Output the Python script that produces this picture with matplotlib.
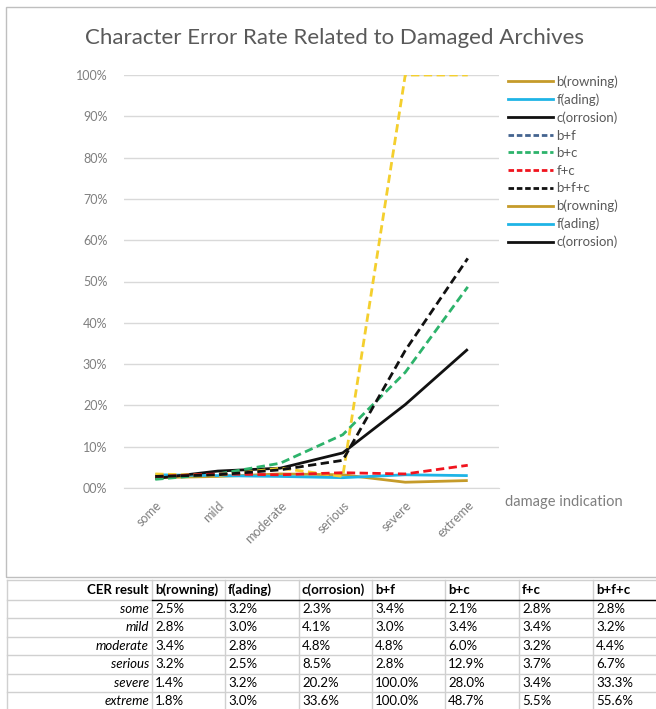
import matplotlib
matplotlib.use("Agg")
import matplotlib.pyplot as plt
from matplotlib.lines import Line2D
from matplotlib.patches import Rectangle
from matplotlib.ticker import FuncFormatter, MultipleLocator

plt.rcParams['font.family'] = ['Lato', 'DejaVu Sans']

# ---- data (CER in percent) ----
categories = ["some", "mild", "moderate", "serious", "severe", "extreme"]
browning = [2.5, 2.8, 3.4, 3.2, 1.4, 1.8]
fading = [3.2, 3.0, 2.8, 2.5, 3.2, 3.0]
corrosion = [2.3, 4.1, 4.8, 8.5, 20.2, 33.6]
b_f = [3.4, 3.0, 4.8, 2.8, 100.0, 100.0]
b_c = [2.1, 3.4, 6.0, 12.9, 28.0, 48.7]
f_c = [2.8, 3.4, 3.2, 3.7, 3.4, 5.5]
b_f_c = [2.8, 3.2, 4.4, 6.7, 33.3, 55.6]

series_names = ["b(rowning)", "f(ading)", "c(orrosion)", "b+f", "b+c", "f+c", "b+f+c"]
series_values = [browning, fading, corrosion, b_f, b_c, f_c, b_f_c]
title = "Character Error Rate Related to Damaged Archives"
x_label = "damage indication"
table_corner = "CER result"

W, H = 656, 709
fig = plt.figure(figsize=(W / 100, H / 100), dpi=100)


def fx(px):
    return px / W


def fy(py):
    return 1 - py / H


# chart frame
fig.patches.append(Rectangle((fx(6), fy(577)), fx(700), fy(7) - fy(577),
                             transform=fig.transFigure, fill=False,
                             edgecolor="#BFBFBF", linewidth=1.0))

fig.text(fx(335), fy(38), title, ha="center", va="center",
         fontsize=16, color="#595959")

ax = fig.add_axes([fx(124), fy(488), fx(499) - fx(124), fy(75) - fy(488)])
x = list(range(len(categories)))

styles = {
    "b(rowning)": dict(color="#C59B2A", ls="-"),
    "f(ading)": dict(color="#1FB4E6", ls="-"),
    "c(orrosion)": dict(color="#111111", ls="-"),
    "b+f": dict(color="#F4CF2E", ls="--"),
    "b+c": dict(color="#2DB36B", ls="--"),
    "f+c": dict(color="#F0141E", ls="--"),
    "b+f+c": dict(color="#111111", ls="--"),
}
legend_colors = dict((k, v["color"]) for k, v in styles.items())
legend_colors["b+f"] = "#44648F"

for name, vals in zip(series_names, series_values):
    st = styles[name]
    ax.plot(x, vals, color=st["color"], linestyle=st["ls"], linewidth=2.0,
            dashes=(3, 1.6) if st["ls"] == "--" else (None, None),
            solid_capstyle="butt")

ax.set_xlim(-0.5, len(categories) - 0.5)
ax.set_ylim(0, 100)
ax.yaxis.set_major_locator(MultipleLocator(10))
ax.yaxis.set_major_formatter(FuncFormatter(lambda v, p: f"{int(v):02d}%"))
ax.grid(axis="y", color="#D9D9D9", linewidth=1.0)
ax.set_axisbelow(True)
for s in ["top", "right", "left"]:
    ax.spines[s].set_visible(False)
ax.spines["bottom"].set_color("#D9D9D9")
ax.tick_params(length=0, colors="#7F7F7F", labelsize=9)
ax.tick_params(axis="y", pad=12)
ax.set_xticks(x)
ax.set_xticklabels(categories, rotation=45, ha="right", rotation_mode="anchor")
ax.tick_params(axis="x", pad=8)
ax.patch.set_alpha(0)

fig.text(fx(505), fy(502), x_label, ha="left", va="center",
         fontsize=10.5, color="#7F7F7F")

# legend: the seven series followed by the three single-damage series again
legend_order = series_names + series_names[:3]
handles = []
for name in legend_order:
    st = styles[name]
    h = Line2D([0], [0], color=legend_colors[name], linewidth=2.0,
               linestyle=st["ls"])
    if st["ls"] == "--":
        h.set_dashes((2, 1))
    handles.append(h)
fig.legend(handles, legend_order, loc="upper left",
           bbox_to_anchor=(fx(503), fy(70)), frameon=False,
           fontsize=9.5, labelcolor="#595959", handlelength=3.4,
           handletextpad=0.25, labelspacing=0.42, borderaxespad=0)

# ---- data table ----
col_edges = [7, 152, 225, 299, 372, 445, 519, 593, 700]
row_edges = [580, 599.5, 618, 636.5, 655, 673.5, 692, 710.5]
grid_c = "#D0D0D0"
for xe in col_edges[:-1]:
    fig.add_artist(Line2D([fx(xe), fx(xe)], [fy(row_edges[0]), fy(row_edges[-1])],
                          color=grid_c, linewidth=1.0))
for i, ye in enumerate(row_edges):
    fig.add_artist(Line2D([fx(col_edges[0]), fx(col_edges[-1])], [fy(ye), fy(ye)],
                          color=grid_c, linewidth=1.0))
fig.add_artist(Line2D([fx(col_edges[1]), fx(col_edges[-1])],
                      [fy(row_edges[1]), fy(row_edges[1])],
                      color="black", linewidth=1.0))

tfs = 9.5
ymid = lambda r: (row_edges[r] + row_edges[r + 1]) / 2
fig.text(fx(col_edges[1] - 3), fy(ymid(0)), table_corner, ha="right", va="center",
         fontsize=tfs, fontweight="bold", color="black")
for j, name in enumerate(series_names):
    fig.text(fx(col_edges[j + 1] + 3), fy(ymid(0)), name, ha="left", va="center",
             fontsize=tfs, fontweight="bold", color="black")
for i, cat in enumerate(categories):
    fig.text(fx(col_edges[1] - 3), fy(ymid(i + 1)), cat, ha="right", va="center",
             fontsize=tfs, style="italic", color="black")
    for j, vals in enumerate(series_values):
        fig.text(fx(col_edges[j + 1] + 3), fy(ymid(i + 1)), f"{vals[i]:.1f}%",
                 ha="left", va="center", fontsize=tfs, color="black")

fig.savefig("out.png", dpi=100, facecolor="white")
